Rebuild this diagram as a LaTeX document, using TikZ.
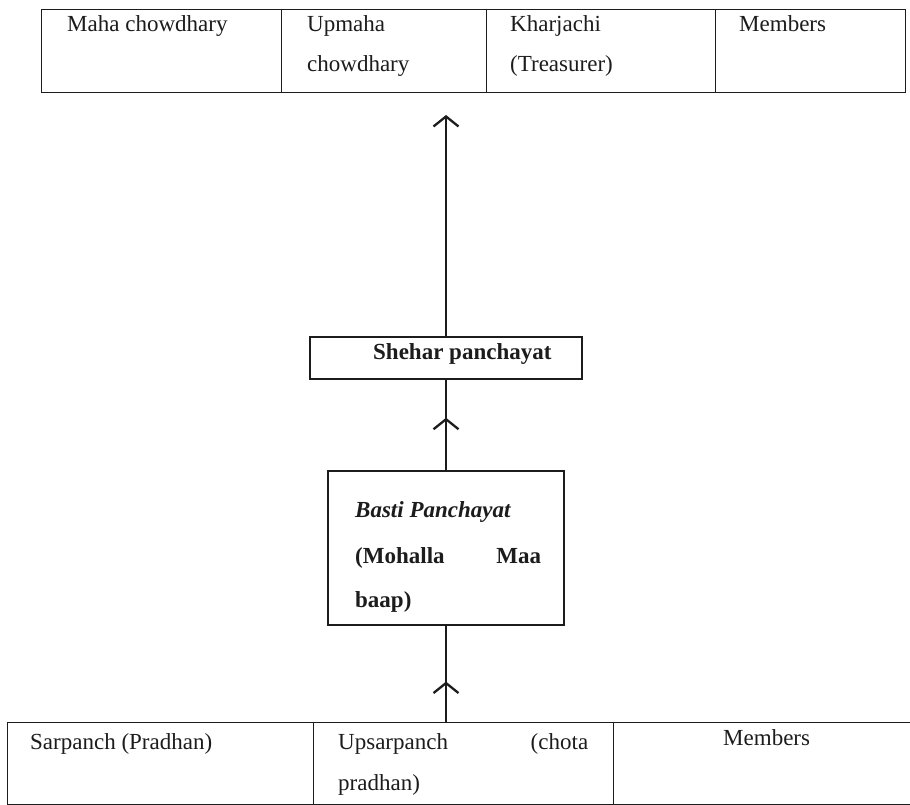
\documentclass[tikz,border=0pt]{standalone}
\usepackage{fontspec}
\setmainfont{Liberation Serif}
\usetikzlibrary{arrows.meta,decorations.markings}
\definecolor{ink}{RGB}{28,28,28}
\begin{document}
\begin{tikzpicture}[x=1pt,y=-1pt,
  cell/.style={draw=ink, line width=1.1pt, rectangle, inner sep=0pt, anchor=north west},
  box/.style={draw=ink, line width=1.4pt, rectangle, inner sep=0pt},
  txt/.style={anchor=base west, inner sep=0pt, text=ink, font=\fontsize{23}{41}\selectfont},
  tip/.tip={Straight Barb[length=10pt,width=25pt,line width=2.3pt]},
  conn/.style={draw=ink, line width=2.5pt},
  midarrow/.style={postaction={decorate}, decoration={markings,
      mark=at position #1 with {\arrow[ink]{tip}}}}
]
\useasboundingbox (0,0) rectangle (910,805);
\fill[white] (0,0) rectangle (910,805);

% top table
\node[cell, minimum width=240pt, minimum height=83pt] (t1) at (41,9) {};
\node[cell, minimum width=205pt, minimum height=83pt] (t2) at (281,9) {};
\node[cell, minimum width=229pt, minimum height=83pt] (t3) at (486,9) {};
\node[cell, minimum width=190pt, minimum height=83pt] (t4) at (715,9) {};
\node[txt] (m1) at (67,32) {Maha chowdhary};
\node[txt] (u1) at (307,32) {Upmaha};
\node[txt] (u2) at (307,72) {chowdhary};
\node[txt] (k1) at (510,32) {Kharjachi};
\node[txt] (k2) at (510,72) {(Treasurer)};
\node[txt] (mem1) at (739,32) {Members};

% middle boxes
\node[box, minimum width=272pt, minimum height=42pt] (shehar) at (446,358) {};
\node[txt, font=\fontsize{23}{41}\selectfont\bfseries] (shehartxt) at (373,359) {Shehar panchayat};

\node[box, minimum width=236pt, minimum height=154pt] (basti) at (446,548) {};
\node[txt, font=\fontsize{23}{41}\selectfont\bfseries\itshape] (bastitxt) at (355,517) {Basti Panchayat};
\node[txt, font=\fontsize{23}{41}\selectfont\bfseries] (moh) at (355,563) {\hbox to 186pt{(Mohalla\hfill Maa}};
\node[txt, font=\fontsize{23}{41}\selectfont\bfseries] (baap) at (355,607) {baap)};

% bottom table
\node[cell, minimum width=306pt, minimum height=82pt] (b1) at (7,722) {};
\node[cell, minimum width=300pt, minimum height=82pt] (b2) at (313,722) {};
\node[cell, minimum width=299pt, minimum height=82pt] (b3) at (613,722) {};
\node[txt] (s1) at (30,749) {Sarpanch (Pradhan)};
\node[txt] (up1) at (338,749) {\hbox to 250pt{Upsarpanch\hfill(chota}};
\node[txt] (up2) at (338,790) {pradhan)};
\node[txt] (mem2) at (723,745) {Members};

% connectors
\coordinate (toptip) at (446,115);
\draw[conn, -{tip}] (shehar.north) -- (toptip);
\draw[conn, midarrow=0.58] (basti.north) -- (shehar.south);
\draw[conn, midarrow=0.42] (basti.south |- b2.north) -- (basti.south);
\end{tikzpicture}
\end{document}
